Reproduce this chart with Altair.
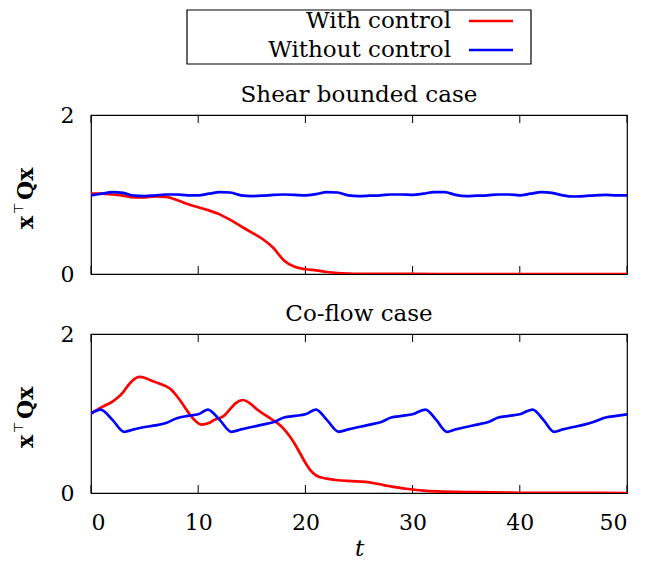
import altair as alt
import pandas as pd

FONT = "DejaVu Serif"

# ---------------- data ----------------
series_names = ["With control", "Without control"]
series_colors = ["#ff0000", "#0000ff"]
x_ticks = [0, 10, 20, 30, 40, 50]
y_ticks = [0, 1, 2]
panel_titles = ["Shear bounded case", "Co-flow case"]
y_title_parts = ["x", "\u22a4", "Qx"]   # x^T Q x
x_title = "t"

# Shear bounded case
t_shear_red = [0, 1, 2, 3, 4, 5, 6, 7, 8, 9, 10, 11, 12, 13, 14, 15, 16, 17, 18, 19,
               20, 21, 22, 23, 24, 25, 27, 30, 35, 40, 45, 50]
v_shear_red = [1.01, 1.01, 1.0, 0.985, 0.965, 0.965, 0.975, 0.97, 0.93, 0.88, 0.84, 0.80,
               0.75, 0.68, 0.60, 0.52, 0.44, 0.33, 0.17, 0.09, 0.06, 0.045, 0.025, 0.012,
               0.006, 0.003, 0.002, 0.001, 0.0, 0.0, 0.0, 0.0]

t_shear_blue = list(range(0, 51))
v_shear_blue = [0.99, 1.01, 1.03, 1.02, 0.985, 0.98, 0.99, 1.0, 1.0, 0.99,
                0.99, 1.01, 1.03, 1.025, 0.99, 0.98, 0.985, 0.995, 1.0, 0.995,
                0.99, 1.005, 1.03, 1.025, 0.99, 0.98, 0.985, 0.99, 1.0, 1.0,
                0.995, 1.01, 1.03, 1.03, 0.995, 0.98, 0.985, 0.99, 1.0, 1.0,
                0.99, 1.01, 1.03, 1.02, 0.99, 0.975, 0.98, 0.99, 0.995, 0.99, 0.99]

# Co-flow case
t_coflow_red = [0, 1, 2, 2.5, 3, 3.5, 4, 4.5, 5, 5.5, 6.3, 7.4, 8, 8.5, 9, 9.5, 10.3, 11,
                11.5, 12.4, 13, 13.5, 14.2, 14.8, 15.5, 16.6, 17.9, 18.5, 19, 19.5, 20,
                20.5, 21, 22, 23, 24.3, 25.6, 27.3, 28.5, 29.6, 31, 32.3, 35.6, 40, 45, 50]
v_coflow_red = [1.0, 1.08, 1.15, 1.2, 1.27, 1.36, 1.43, 1.46, 1.45, 1.42, 1.38, 1.31,
                1.22, 1.13, 1.03, 0.94, 0.86, 0.88, 0.92, 0.97, 1.06, 1.13, 1.17, 1.13,
                1.05, 0.95, 0.82, 0.72, 0.62, 0.50, 0.38, 0.28, 0.22, 0.18, 0.16, 0.15,
                0.14, 0.10, 0.07, 0.05, 0.03, 0.02, 0.01, 0.003, 0.001, 0.0]

t_coflow_blue = [0, 0.9, 2, 3.1, 4, 5, 6, 7, 8, 9, 10, 10.9, 12, 13.1, 14, 15, 16, 17,
                 18, 19, 20, 21, 22, 23.1, 24, 25, 26, 27, 28, 29, 30, 31.2, 32.2, 33.2,
                 34, 35, 36, 37, 38, 39, 40, 41.2, 42.2, 43.2, 44, 45, 46, 47, 48, 49, 50]
v_coflow_blue = [1.0, 1.05, 0.92, 0.77, 0.80, 0.83, 0.85, 0.88, 0.94, 0.97, 0.99, 1.05,
                 0.92, 0.77, 0.80, 0.83, 0.86, 0.89, 0.95, 0.97, 0.99, 1.05, 0.92, 0.77,
                 0.80, 0.83, 0.86, 0.89, 0.95, 0.97, 0.99, 1.05, 0.92, 0.77, 0.80, 0.83,
                 0.86, 0.89, 0.95, 0.97, 0.99, 1.05, 0.92, 0.77, 0.80, 0.83, 0.86, 0.90,
                 0.95, 0.97, 0.99]

# ---------------- layout constants ----------------
W, H = 536, 159
FS = 23
LFS = 22
PADL = 4
PL = 91  # page x of the plot's left edge (legend is positioned relative to it)


def line_df(t, v):
    return pd.DataFrame({"t": t, "v": v})


def y_title_layers():
    # composite rotated axis title: bold x, small superscript ⊤, bold Qx
    specs = [
        (y_title_parts[0], 114, -58, 22, "bold", FONT),
        (y_title_parts[1], 99, -68, 13, "normal", "DejaVu Sans"),
        (y_title_parts[2], 85, -58, 22, "bold", FONT),
    ]
    layers = []
    for txt, yy, xx, size, weight, font in specs:
        layers.append(
            alt.Chart(pd.DataFrame({"s": [txt]})).mark_text(
                angle=270, align="left", baseline="alphabetic", font=font,
                fontSize=size, fontWeight=weight, color="black", clip=False
            ).encode(x=alt.value(xx), y=alt.value(yy), text="s:N")
        )
    return layers


def panel(t_red, v_red, t_blue, v_blue, title, show_x):
    if show_x:
        x_axis = alt.Axis(values=x_ticks, format="d", ticks=False, domain=False,
                          grid=False, labelFontSize=LFS, labelFont=FONT,
                          labelPadding=19, labelColor="black", title=x_title,
                          titleFont=FONT, titleFontSize=FS, titleFontStyle="italic",
                          titleFontWeight="normal", titleColor="black",
                          titlePadding=4)
    else:
        x_axis = None
    y_axis = alt.Axis(values=y_ticks, format="d", ticks=False, domain=False,
                      grid=False, labelFontSize=LFS, labelFont=FONT,
                      labelPadding=17, labelColor="black", title=None)
    X = alt.X("t:Q", scale=alt.Scale(domain=[0, 50], nice=False, zero=False), axis=x_axis)
    Y = alt.Y("v:Q", scale=alt.Scale(domain=[0, 2], nice=False), axis=y_axis)

    red = alt.Chart(line_df(t_red, v_red)).mark_line(
        color=series_colors[0], strokeWidth=2.7, interpolate="monotone", clip=True
    ).encode(x=X, y=Y)
    blue = alt.Chart(line_df(t_blue, v_blue)).mark_line(
        color=series_colors[1], strokeWidth=2.7, interpolate="monotone", clip=True
    ).encode(x=X, y=Y)

    tick_df = pd.DataFrame({"t": x_ticks})
    ticks_bottom = alt.Chart(tick_df).mark_rule(color="black", strokeWidth=1).encode(
        x=X, y=alt.value(H - 8), y2=alt.value(H))
    ticks_top = alt.Chart(tick_df).mark_rule(color="black", strokeWidth=1).encode(
        x=X, y=alt.value(0), y2=alt.value(8))

    return alt.layer(ticks_bottom, ticks_top, red, blue, *y_title_layers()).properties(
        width=W, height=H,
        title=alt.TitleParams(title, font=FONT, fontSize=FS, fontWeight="normal",
                              color="black", anchor="middle", offset=-3),
    )


top = panel(t_shear_red, v_shear_red, t_shear_blue, v_shear_blue,
            panel_titles[0], False)
bottom = panel(t_coflow_red, v_coflow_red, t_coflow_blue, v_coflow_blue,
               panel_titles[1], True)

# ---------------- legend (gnuplot style box) ----------------
leg_df = pd.DataFrame({"label": series_names})
LEG_H = 54
box_x0, box_x1 = 187 - PL, 531 - PL
text_x = 451 - PL
sample_x0, sample_x1 = 469 - PL, 513 - PL

ly = alt.Y("label:N", axis=None,
           scale=alt.Scale(type="point", domain=series_names, range=[11, 40], padding=0))
lc = alt.Color("label:N", legend=None,
               scale=alt.Scale(domain=series_names, range=series_colors))

leg_box = alt.Chart(pd.DataFrame({"k": [0]})).mark_rect(
    fillOpacity=0, stroke="black", strokeWidth=1.2
).encode(x=alt.value(box_x0), x2=alt.value(box_x1), y=alt.value(0), y2=alt.value(LEG_H))
leg_text = alt.Chart(leg_df).mark_text(
    align="right", baseline="middle", font=FONT, fontSize=FS, color="black"
).encode(x=alt.value(text_x), y=ly, text="label:N")
leg_line = alt.Chart(leg_df).mark_rule(strokeWidth=2.7).encode(
    x=alt.value(sample_x0), x2=alt.value(sample_x1), y=ly, color=lc)

legend = alt.layer(leg_box, leg_text, leg_line).properties(
    width=W, height=LEG_H, view=alt.ViewBackground(stroke="transparent"))

chart = alt.vconcat(
    legend,
    alt.vconcat(top, bottom, spacing=16),
    spacing=17,
).properties(
    padding={"left": PADL, "top": 0, "right": 0, "bottom": 0},
    background="white",
).configure_view(stroke="black", strokeWidth=1.2)

chart.save("out.html", embed_options={"renderer": "svg", "actions": False})
